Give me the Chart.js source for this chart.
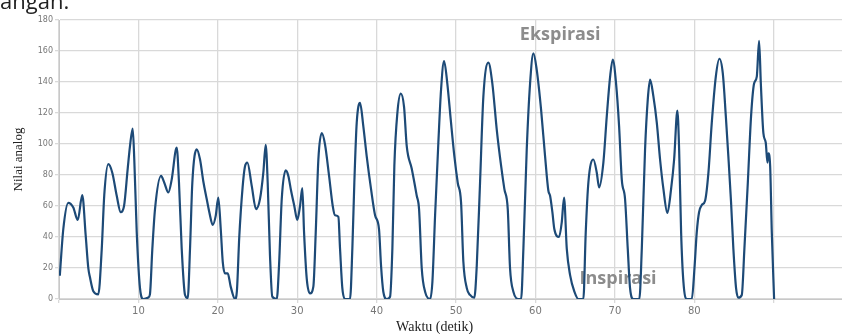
<!DOCTYPE html>
<html>
<head>
<meta charset="utf-8">
<script src="https://cdn.jsdelivr.net/npm/chart.js@4.4.1/dist/chart.umd.min.js"></script>
<style>
  html, body { margin: 0; padding: 0; background: #fff; }
  #wrap { position: relative; width: 842px; height: 334px; overflow: hidden; }
  #caption { position: absolute; left: 0; top: -11px; font: 22px "Open Sans", sans-serif; color: #222; line-height: 22px; }
</style>
</head>
<body>
<div id="wrap">
  <canvas id="myChart" width="842" height="334"></canvas>
  <div id="caption">angan.</div>
</div>
<script>
// waktu (detik)
const timeSec = [
  0.1, 0.54, 1.17, 1.8, 2.36, 2.93, 3.36, 3.69, 3.9, 4.32, 4.95, 5.38, 5.7, 6.21, 6.71, 7.27, 7.77, 8.19,
  8.65, 8.94, 9.28, 9.48, 9.79, 10.2, 10.62, 11.25, 11.45, 11.75, 12.09, 12.85, 13.26, 13.77, 14.19, 14.82,
  15.11, 15.45, 15.87, 16.21, 16.5, 16.79, 17.34, 17.76, 18.17, 18.6, 18.93, 19.36, 19.74, 20.06, 20.37,
  20.62, 20.9, 21.25, 21.62, 22.17, 22.4, 22.7, 23.12, 23.4, 23.72, 24.27, 24.81, 25.31, 25.73, 26.03, 26.28,
  26.57, 26.86, 27.42, 27.71, 28.05, 28.55, 28.88, 29.22, 29.63, 30.01, 30.35, 30.64, 30.86, 31.2, 31.61,
  32.03, 32.33, 32.66, 33.09, 33.5, 34.01, 34.47, 34.76, 35.18, 35.39, 35.68, 36.02, 36.65, 36.94, 37.19,
  37.49, 37.91, 38.32, 38.75, 39.29, 39.8, 40.3, 40.55, 40.84, 41.27, 41.69, 41.98, 42.23, 42.61, 43.04,
  43.45, 43.79, 44.42, 45.05, 45.34, 45.68, 46.1, 46.73, 47.02, 47.36, 47.77, 48.11, 48.49, 48.9, 49.33,
  49.79, 50.21, 50.63, 50.92, 51.35, 51.76, 52.3, 52.61, 53.02, 53.44, 54.07, 54.57, 55.13, 55.67, 56.08,
  56.51, 56.8, 57.22, 57.85, 58.19, 58.48, 58.9, 59.32, 59.74, 60.16, 60.71, 61.21, 61.62, 61.84, 62.13,
  62.38, 62.97, 63.31, 63.6, 63.94, 64.36, 64.9, 65.4, 66.03, 66.33, 66.66, 67.29, 67.72, 68.01, 68.55,
  68.98, 69.4, 69.73, 70.15, 70.53, 70.87, 71.28, 71.62, 71.91, 72.33, 73.08, 73.39, 73.8, 74.14, 74.43,
  74.85, 75.28, 75.69, 76.11, 76.61, 77.08, 77.46, 77.87, 78.09, 78.34, 78.63, 79.06, 79.69, 80.02, 80.31,
  80.6, 80.94, 81.36, 81.78, 82.2, 82.71, 83.16, 83.59, 83.97, 84.29, 84.63, 84.92, 85.26, 85.55, 85.98,
  86.31, 86.74, 87.15, 87.53, 87.87, 88.16, 88.38, 88.7, 89.0, 89.21, 89.33, 89.55, 89.76, 90.05
];
// nilai analog sensor
const analogValue = [
  15, 45, 62, 59, 51, 67, 41, 20, 14, 5, 3, 32, 67, 87, 81.5, 66.6, 56, 60,
  84, 98.6, 110, 90, 43, 7, 0, 1, 3, 32, 58, 79.4, 75, 68.7, 77, 97.6,
  75, 32.6, 2.6, 0.6, 32.6, 75, 96.5, 90, 76, 64.5, 56, 47.8, 53.8, 65.5, 45,
  24, 16.5, 16.5, 8, 0, 5, 40, 72, 85, 88, 73, 58, 64.5, 81.5, 99.5, 75,
  28, 1.5, 0, 22, 64.5, 83, 79.4, 70, 60, 51, 60, 71.5, 43, 13, 3.6,
  8, 43, 90, 107, 99.7, 79.4, 60, 54, 53, 32.5, 7, 0, 0, 32.5, 75,
  113.6, 126.5, 111.5, 92, 71, 54, 45, 21.8, 4.7, 0, 1.5, 32.5, 86, 120, 132.5,
  124, 98.6, 84, 66.6, 58, 19.7, 4.7, 0, 11, 54, 100.8, 135, 153.5, 139, 115.7,
  92, 75, 62.3, 24, 7, 2.6, 0.8, 21.8, 75, 130.7, 152.5, 139, 109, 86, 71,
  58, 19.7, 4.7, 0, 0, 32.5, 96.5, 139, 158.5, 147.8, 122, 92, 70, 66.6, 56,
  45, 40, 49.5, 65.5, 32.5, 15.4, 4.7, 0, 0, 43, 75, 90, 81.5, 72, 88,
  118, 143.5, 154.5, 139, 111.5, 77, 64.5, 32.5, 7, 0, 0, 32.5, 96.5, 128.6, 141.5,
  130.7, 113.6, 90, 71, 55.5, 71, 90, 121.5, 96.5, 43, 11, 0, 0, 19.7, 43,
  56, 60.6, 63.4, 81.5, 113.6, 143.5, 155, 145.6, 118, 92, 62.3, 32.5, 7, 0.8, 2.6,
  32.5, 75, 118, 139, 143.5, 166.5, 139, 107, 100.8, 88, 94, 86, 43, 0
];
// label keterangan
const noteLabels = ['Ekspirasi', 'Inspirasi'];
const noteTime = [63.1, 70.4];
const noteValue = [167, 9.6];
// judul sumbu x (digeser sedikit ke kiri seperti gambar asli)
const xTitle = 'Waktu (detik)';
const xTitleAt = 47.3;

// plugin untuk menulis label Ekspirasi / Inspirasi di bawah garis
const notePlugin = {
  id: 'notes',
  beforeDatasetsDraw(chart) {
    const ctx = chart.ctx;
    const xs = chart.scales.x, ys = chart.scales.y;
    ctx.save();
    ctx.font = 'bold 18px "Open Sans", sans-serif';
    ctx.fillStyle = '#8c8c8c';
    ctx.textAlign = 'center';
    ctx.textBaseline = 'alphabetic';
    noteLabels.forEach(function (txt, i) {
      ctx.fillText(txt, xs.getPixelForValue(noteTime[i]), ys.getPixelForValue(noteValue[i]));
    });
    // judul sumbu x
    ctx.font = '14px "Liberation Serif", serif';
    ctx.fillStyle = '#222';
    ctx.textBaseline = 'middle';
    ctx.fillText(xTitle, xs.getPixelForValue(xTitleAt), xs.bottom - 7);
    ctx.restore();
  }
};

const ctx = document.getElementById('myChart').getContext('2d');
window.myChart = new Chart(ctx, {
  type: 'line',
  data: {
    datasets: [{
      data: timeSec.map(function (t, i) { return { x: t, y: analogValue[i] }; }),
      borderColor: '#1d4a77',
      borderWidth: 2.2,
      pointRadius: 0,
      fill: false,
      cubicInterpolationMode: 'monotone'
    }]
  },
  options: {
    responsive: false,
    animation: false,
    layout: { padding: { top: 20, right: 0, left: 4, bottom: 0 } },
    plugins: { legend: { display: false }, tooltip: { enabled: false } },
    scales: {
      x: {
        type: 'linear',
        min: 0,
        max: 98.6,
        afterFit: function (scale) { scale.height = 35; },
        grid: { color: '#d9d9d9', lineWidth: 1.3, tickLength: 4 },
        border: { color: '#c8c8c8' },
        ticks: {
          stepSize: 10,
          includeBounds: false,
          maxRotation: 0,
          padding: 2,
          color: '#777',
          font: { size: 10, family: 'DejaVu Sans' },
          callback: function (v) { return (v === 0 || v === 90) ? '' : v; }
        }
      },
      y: {
        min: 0,
        max: 180,
        afterFit: function (scale) { scale.width = 55; },
        grid: { color: '#d9d9d9', lineWidth: 1.3, tickLength: 4 },
        border: { color: '#c8c8c8' },
        ticks: {
          stepSize: 20,
          padding: 2,
          color: '#777',
          font: { size: 8, family: 'DejaVu Sans' }
        },
        title: {
          display: true,
          text: 'Nilai analog',
          color: '#222',
          padding: { top: 7, bottom: 0 },
          font: { size: 13, family: 'Liberation Serif' }
        }
      }
    }
  },
  plugins: [notePlugin]
});
</script>
</body>
</html>
